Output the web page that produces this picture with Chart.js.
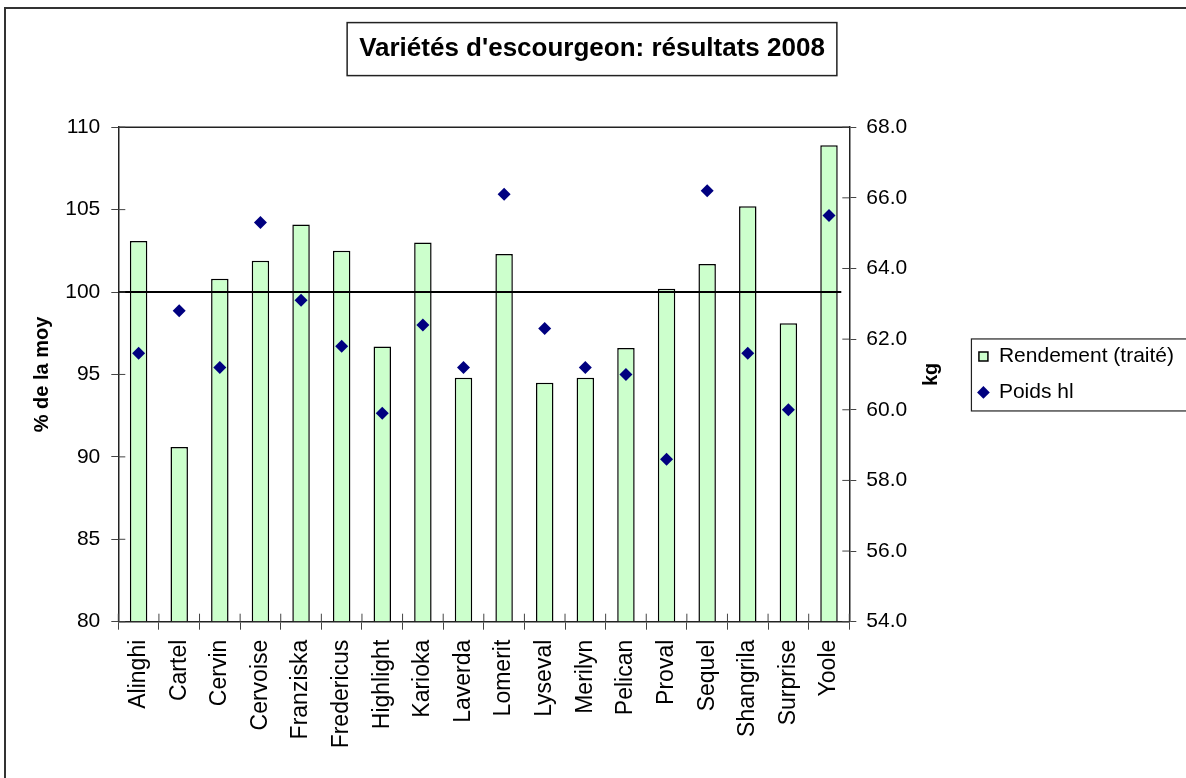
<!DOCTYPE html>
<html>
<head>
<meta charset="utf-8">
<script src="https://cdn.jsdelivr.net/npm/chart.js@4.4.1/dist/chart.umd.min.js"></script>
<style>
  html, body { margin: 0; padding: 0; background: #fff; }
  canvas { display: block; }
</style>
</head>
<body>
<canvas id="grafico" width="1186" height="778"></canvas>
<script>
// valeurs
const varietes = ['Alinghi', 'Cartel', 'Cervin', 'Cervoise', 'Franziska', 'Fredericus', 'Highlight', 'Karioka', 'Laverda',
    'Lomerit', 'Lyseval', 'Merilyn', 'Pelican', 'Proval', 'Sequel', 'Shangrila', 'Surprise', 'Yoole'];
const rendement = [103.1, 90.6, 100.8, 101.9, 104.1, 102.5, 96.7, 103.0, 94.8, 102.3, 94.5, 94.8, 96.6, 100.2, 101.7, 105.2, 98.1, 108.9];
const poidsHl = [61.6, 62.8, 61.2, 65.3, 63.1, 61.8, 59.9, 62.4, 61.2, 66.1, 62.3, 61.2, 61.0, 58.6, 66.2, 61.6, 60.0, 65.5];
const ticksGauche = [80, 85, 90, 95, 100, 105, 110];
const ticksDroite = [54, 56, 58, 60, 62, 64, 66, 68];
const moyenne = 100;

const titre = "Variétés d'escourgeon: résultats 2008";
const labelRendement = 'Rendement (traité)';
const labelPoids = 'Poids hl';

const SANS = '"Liberation Sans", Arial, sans-serif';
Chart.defaults.font.family = SANS;
Chart.defaults.color = '#000';

const decor = {
    id: 'decor',
    beforeDraw(chart) {
        const ctx = chart.ctx;
        ctx.save();
        ctx.fillStyle = '#fff';
        ctx.fillRect(0, 0, chart.width, chart.height);
        // cadre extérieur
        ctx.strokeStyle = '#333';
        ctx.lineWidth = 2;
        ctx.strokeRect(5, 8, chart.width + 20, chart.height + 20);
        ctx.restore();
    },
    afterDatasetsDraw(chart) {
        const {ctx, chartArea: a, scales} = chart;
        const y = scales.y.getPixelForValue(moyenne);
        ctx.save();
        ctx.strokeStyle = '#000';
        ctx.lineWidth = 2;
        ctx.beginPath();
        ctx.moveTo(a.left, y);
        ctx.lineTo(a.right - 8, y);
        ctx.stroke();
        ctx.restore();
    },
    afterDraw(chart) {
        const {ctx, chartArea: a, scales} = chart;
        ctx.save();
        // bord haut de la zone de tracé
        ctx.strokeStyle = '#222';
        ctx.lineWidth = 1.5;
        ctx.beginPath();
        ctx.moveTo(a.left, a.top);
        ctx.lineTo(a.right, a.top);
        ctx.stroke();

        // graduations qui traversent les axes
        ctx.strokeStyle = '#444';
        ctx.lineWidth = 1;
        ctx.beginPath();
        scales.y.ticks.forEach(t => {
            const p = scales.y.getPixelForValue(t.value);
            ctx.moveTo(a.left, p);
            ctx.lineTo(a.left + 7, p);
        });
        scales.y2.ticks.forEach(t => {
            const p = scales.y2.getPixelForValue(t.value);
            ctx.moveTo(a.right, p);
            ctx.lineTo(a.right - 7, p);
        });
        for (let i = 0; i <= varietes.length; i++) {
            const p = scales.x.getPixelForValue(i - 0.5);
            ctx.moveTo(p, a.bottom);
            ctx.lineTo(p, a.bottom - 8);
        }
        ctx.stroke();

        // cadre du titre
        ctx.font = 'bold 26px ' + SANS;
        const w = ctx.measureText(titre).width;
        const tb = chart.titleBlock;
        const cx = (tb.left + tb.right) / 2;
        const cy = tb.top + 33 + 15.6;
        ctx.strokeStyle = '#222';
        ctx.lineWidth = 1.5;
        ctx.strokeRect(cx - w / 2 - 12, cy - 26, w + 24, 53);

        // titre de l'axe de droite
        ctx.font = 'bold 20px ' + SANS;
        ctx.fillStyle = '#000';
        ctx.textAlign = 'center';
        ctx.textBaseline = 'middle';
        ctx.save();
        ctx.translate(931, (a.top + a.bottom) / 2);
        ctx.rotate(-Math.PI / 2);
        ctx.fillText('kg', 0, 0);
        ctx.restore();

        // cadre de la légende
        const hb = chart.legend.legendHitBoxes;
        if (hb && hb.length) {
            const x0 = hb[0].left - 7;
            const y0 = hb[0].top - 7;
            const last = hb[hb.length - 1];
            const y1 = last.top + last.height + 8;
            ctx.strokeStyle = '#222';
            ctx.lineWidth = 1.2;
            ctx.strokeRect(x0, y0, chart.width - x0 + 10, y1 - y0);
        }
        ctx.restore();
    }
};

const ctx = document.getElementById('grafico').getContext('2d');
const grafico = new Chart(ctx, {
    type: 'bar',
    data: {
        labels: varietes,
        datasets: [{
            label: labelRendement,
            data: rendement,
            yAxisID: 'y',
            backgroundColor: '#CCFFCC',
            borderColor: '#000',
            borderWidth: 1.5,
            barPercentage: 0.43,
            categoryPercentage: 1.0,
            base: ticksGauche[0],
            pointStyle: 'rect',
            order: 2
        }, {
            type: 'line',
            label: labelPoids,
            data: poidsHl,
            yAxisID: 'y2',
            showLine: false,
            pointStyle: 'rectRot',
            pointRadius: 6.5,
            pointHoverRadius: 6.5,
            pointBorderWidth: 0,
            backgroundColor: '#000080',
            borderColor: '#000080',
            borderWidth: 0,
            order: 1
        }]
    },
    options: {
        responsive: false,
        animation: false,
        events: [],
        layout: {padding: {top: 0, left: 0, bottom: 0, right: 2}},
        plugins: {
            title: {
                display: true,
                text: titre,
                color: '#000',
                font: {size: 26, weight: 'bold'},
                padding: {top: 33, bottom: 63}
            },
            legend: {
                position: 'right',
                fullSize: false,
                maxWidth: 400,
                labels: {
                    usePointStyle: true,
                    boxWidth: 10,
                    boxHeight: 9,
                    padding: 15,
                    color: '#000',
                    font: {size: 21},
                    sort: (a, b) => a.datasetIndex - b.datasetIndex
                }
            },
            tooltip: {enabled: false}
        },
        scales: {
            x: {
                grid: {drawOnChartArea: false, tickLength: 8, color: '#444'},
                border: {display: true, color: '#222', width: 1.5},
                ticks: {
                    autoSkip: false,
                    minRotation: 90,
                    maxRotation: 90,
                    padding: 10,
                    color: '#000',
                    font: {size: 23}
                },
                afterFit(scale) {
                    scale.height = 156.3;
                }
            },
            y: {
                position: 'left',
                min: ticksGauche[0],
                max: ticksGauche[ticksGauche.length - 1],
                afterBuildTicks(scale) {
                    scale.ticks = ticksGauche.map(v => ({value: v}));
                },
                grid: {drawOnChartArea: false, tickLength: 7, color: '#444'},
                border: {display: true, color: '#222', width: 1.5},
                ticks: {padding: 11, color: '#000', font: {size: 21}},
                title: {
                    display: true,
                    text: '% de la moy',
                    color: '#000',
                    font: {size: 20, weight: 'bold'},
                    padding: {top: 30, bottom: 0}
                },
                afterFit(scale) {
                    scale.width = 118.3;
                }
            },
            y2: {
                position: 'right',
                min: ticksDroite[0],
                max: ticksDroite[ticksDroite.length - 1],
                afterBuildTicks(scale) {
                    scale.ticks = ticksDroite.map(v => ({value: v}));
                },
                grid: {drawOnChartArea: false, tickLength: 7, color: '#444'},
                border: {display: true, color: '#222', width: 1.5},
                ticks: {
                    padding: 10,
                    color: '#000',
                    font: {size: 21},
                    callback: v => Number(v).toFixed(1)
                },
                afterFit(scale) {
                    const c = scale.ctx;
                    c.save();
                    c.font = '21px ' + SANS;
                    const tw = Math.max(c.measureText(labelRendement).width, c.measureText(labelPoids).width);
                    c.restore();
                    const legendW = 15 + 10 + 10.5 + tw;
                    scale.width = scale.chart.width - 12 - legendW - 849.3;
                }
            }
        }
    },
    plugins: [decor]
});
</script>
</body>
</html>
